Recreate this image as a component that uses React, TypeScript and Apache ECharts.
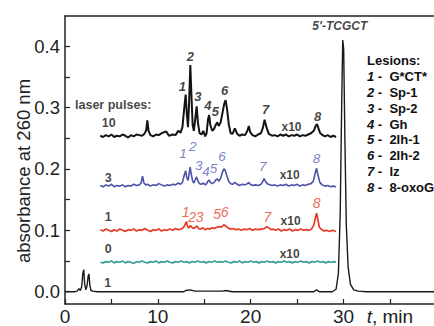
import React, { useEffect, useRef } from "react";
import * as echarts from "echarts";

const FONT = '"Liberation Sans", Arial, sans-serif';

// x ticks / labels
const X_TICKS = [0, 5, 10, 15, 20, 25, 30, 35];
const X_LABELS = [0, 10, 20, 30, 35];
const Y_TICKS = [0, 0.05, 0.1, 0.15, 0.2, 0.25, 0.3, 0.35, 0.4];
const Y_LABELS = [0, 0.1, 0.2, 0.3, 0.4];

// 10 laser pulses (x10), black
const TRACE_10 = [
  [3.8,0.254],[4.1,0.252],[4.4,0.255],[4.7,0.253],[5.0,0.256],[5.3,0.252],[5.6,0.254],[5.9,0.253],[6.2,0.256],[6.5,0.254],
  [6.8,0.251],[7.1,0.255],[7.4,0.253],[7.7,0.256],[8.0,0.255],[8.3,0.254],[8.55,0.257],[8.75,0.263],[8.87,0.279],[9.0,0.262],
  [9.2,0.255],[9.5,0.253],[9.8,0.256],[10.1,0.255],[10.4,0.258],[10.7,0.26],[10.9,0.261],[11.2,0.254],[11.6,0.256],[11.9,0.255],
  [12.2,0.262],[12.45,0.259],[12.65,0.268],[12.85,0.3],[13.0,0.321],[13.12,0.29],[13.25,0.268],[13.35,0.3],[13.5,0.369],[13.62,0.32],
  [13.75,0.272],[13.88,0.262],[14.02,0.28],[14.18,0.302],[14.32,0.275],[14.5,0.258],[14.7,0.256],[14.9,0.262],[15.1,0.253],[15.25,0.258],
  [15.4,0.28],[15.52,0.288],[15.65,0.272],[15.85,0.262],[16.05,0.265],[16.25,0.272],[16.4,0.276],[16.55,0.27],[16.75,0.275],[16.95,0.29],
  [17.15,0.306],[17.3,0.312],[17.45,0.298],[17.65,0.272],[17.85,0.258],[18.05,0.257],[18.3,0.266],[18.55,0.257],[18.8,0.254],[19.1,0.256],
  [19.4,0.255],[19.65,0.262],[19.8,0.27],[19.95,0.26],[20.2,0.255],[20.5,0.253],[20.8,0.256],[21.1,0.258],[21.3,0.266],[21.5,0.28],
  [21.7,0.268],[21.95,0.257],[22.3,0.254],[22.6,0.255],[22.9,0.253],[23.2,0.256],[23.5,0.254],[23.8,0.256],[24.1,0.253],[24.4,0.255],
  [24.7,0.254],[25.0,0.256],[25.3,0.253],[25.6,0.255],[25.9,0.254],[26.2,0.256],[26.5,0.258],[26.8,0.262],[27.0,0.27],[27.15,0.273],
  [27.3,0.266],[27.5,0.258],[27.75,0.255],[28.0,0.253],[28.3,0.255],[28.6,0.252],[28.9,0.254],[29.2,0.252]
];

// 3 laser pulses (x10), blue
const TRACE_3 = [
  [3.8,0.173],[4.1,0.171],[4.4,0.174],[4.7,0.172],[5.0,0.175],[5.3,0.171],[5.6,0.173],[5.9,0.172],[6.2,0.174],[6.5,0.171],
  [6.8,0.173],[7.1,0.172],[7.4,0.175],[7.7,0.173],[8.0,0.174],[8.2,0.177],[8.35,0.188],[8.5,0.177],[8.7,0.174],[8.95,0.175],
  [9.2,0.172],[9.5,0.174],[9.8,0.173],[10.1,0.176],[10.4,0.174],[10.7,0.172],[11.0,0.174],[11.3,0.173],[11.6,0.175],[11.9,0.174],
  [12.2,0.177],[12.45,0.175],[12.65,0.178],[12.85,0.19],[13.0,0.197],[13.12,0.186],[13.25,0.181],[13.35,0.19],[13.48,0.203],[13.62,0.19],
  [13.75,0.18],[13.88,0.177],[14.02,0.182],[14.18,0.187],[14.32,0.18],[14.5,0.176],[14.7,0.175],[14.9,0.177],[15.1,0.174],[15.25,0.176],
  [15.4,0.18],[15.52,0.182],[15.65,0.178],[15.85,0.176],[16.05,0.178],[16.25,0.182],[16.4,0.184],[16.55,0.18],[16.75,0.184],[16.95,0.194],
  [17.12,0.2],[17.25,0.198],[17.45,0.188],[17.65,0.179],[17.85,0.176],[18.05,0.175],[18.3,0.178],[18.55,0.175],[18.8,0.173],[19.1,0.175],
  [19.4,0.174],[19.65,0.176],[19.8,0.178],[19.95,0.175],[20.2,0.173],[20.5,0.174],[20.8,0.173],[21.1,0.175],[21.25,0.178],[21.45,0.184],
  [21.65,0.178],[21.9,0.175],[22.3,0.173],[22.6,0.174],[22.9,0.172],[23.2,0.174],[23.5,0.173],[23.8,0.175],[24.1,0.172],[24.4,0.174],
  [24.7,0.173],[25.0,0.175],[25.3,0.172],[25.6,0.174],[25.9,0.173],[26.2,0.175],[26.5,0.176],[26.75,0.18],[26.95,0.193],[27.1,0.201],
  [27.25,0.19],[27.45,0.178],[27.7,0.174],[28.0,0.172],[28.3,0.173],[28.6,0.171],[28.9,0.172],[29.2,0.171]
];

// 1 laser pulse (x10), red
const TRACE_1 = [
  [3.8,0.101],[4.1,0.099],[4.4,0.102],[4.7,0.1],[5.0,0.098],[5.3,0.101],[5.6,0.099],[5.9,0.102],[6.2,0.1],[6.5,0.098],
  [6.8,0.101],[7.1,0.1],[7.4,0.102],[7.7,0.099],[8.0,0.101],[8.3,0.1],[8.6,0.103],[8.9,0.1],[9.2,0.098],[9.5,0.101],
  [9.8,0.1],[10.1,0.102],[10.4,0.099],[10.7,0.101],[11.0,0.1],[11.3,0.102],[11.6,0.1],[11.9,0.103],[12.2,0.101],[12.5,0.102],
  [12.75,0.104],[12.95,0.11],[13.08,0.114],[13.2,0.106],[13.35,0.104],[13.5,0.108],[13.65,0.105],[13.85,0.103],[14.05,0.105],[14.2,0.107],
  [14.4,0.103],[14.6,0.102],[14.85,0.104],[15.1,0.101],[15.35,0.103],[15.6,0.102],[15.85,0.104],[16.1,0.103],[16.35,0.105],[16.6,0.106],
  [16.85,0.105],[17.1,0.109],[17.3,0.107],[17.55,0.104],[17.8,0.102],[18.1,0.103],[18.4,0.101],[18.7,0.102],[19.0,0.1],[19.3,0.102],
  [19.6,0.101],[19.9,0.103],[20.2,0.1],[20.5,0.102],[20.8,0.101],[21.1,0.102],[21.5,0.103],[21.75,0.106],[21.95,0.104],[22.2,0.101],
  [22.4,0.102],[22.7,0.1],[23.0,0.102],[23.3,0.099],[23.6,0.101],[23.9,0.1],[24.2,0.102],[24.5,0.099],[24.8,0.101],[25.1,0.1],
  [25.4,0.102],[25.7,0.1],[26.0,0.101],[26.3,0.1],[26.55,0.102],[26.8,0.108],[26.97,0.12],[27.1,0.128],[27.23,0.118],[27.4,0.105],
  [27.65,0.101],[27.9,0.099],[28.2,0.1],[28.5,0.098],[28.8,0.1],[29.2,0.098]
];

// 0 laser pulses (x10), teal
const TRACE_0 = [
  [3.8,0.048],[4.1,0.047],[4.4,0.049],[4.7,0.048],[5.0,0.05],[5.3,0.047],[5.6,0.049],[5.9,0.048],[6.2,0.05],[6.5,0.047],
  [6.8,0.049],[7.1,0.048],[7.4,0.046],[7.7,0.049],[8.0,0.048],[8.3,0.05],[8.6,0.048],[8.9,0.047],[9.2,0.049],[9.5,0.048],
  [9.8,0.05],[10.1,0.047],[10.4,0.049],[10.7,0.048],[11.0,0.05],[11.3,0.048],[11.6,0.047],[11.9,0.049],[12.2,0.048],[12.5,0.05],
  [12.8,0.048],[13.1,0.049],[13.4,0.047],[13.7,0.049],[14.0,0.048],[14.3,0.05],[14.6,0.048],[14.9,0.049],[15.2,0.047],[15.5,0.049],
  [15.8,0.048],[16.1,0.05],[16.4,0.048],[16.7,0.049],[17.0,0.048],[17.3,0.05],[17.6,0.048],[17.9,0.047],[18.2,0.049],[18.5,0.048],
  [18.8,0.05],[19.1,0.047],[19.4,0.049],[19.7,0.048],[20.0,0.05],[20.3,0.048],[20.6,0.049],[20.9,0.047],[21.2,0.049],[21.5,0.048],
  [21.8,0.05],[22.1,0.048],[22.4,0.049],[22.7,0.047],[23.0,0.049],[23.3,0.048],[23.6,0.05],[23.9,0.048],[24.2,0.049],[24.5,0.047],
  [24.8,0.049],[25.1,0.048],[25.4,0.05],[25.7,0.048],[26.0,0.049],[26.3,0.047],[26.6,0.049],[26.9,0.048],[27.2,0.05],[27.5,0.048],
  [27.8,0.049],[28.1,0.047],[28.4,0.049],[28.7,0.048],[29.0,0.049],[29.2,0.048]
];

// 1 laser pulse, full scale, black
const TRACE_FULL = [
  [0,0],[1.0,0],[1.3,0.001],[1.5,0.005],[1.65,0.002],[1.8,0.008],[1.92,0.03],[2.02,0.036],[2.12,0.012],[2.25,0.003],
  [2.38,0.01],[2.5,0.026],[2.58,0.029],[2.68,0.01],[2.8,0.002],[3.0,0.001],[3.5,0],[12.8,0],[13.0,0.002],[13.5,0.003],
  [14.0,0.001],[17.0,0.001],[17.3,0.002],[18,0],[26.8,0],[27.1,0.003],[27.4,0],[28.8,0],[29.2,0.004],[29.45,0.03],
  [29.65,0.13],[29.8,0.3],[29.92,0.41],[30.02,0.395],[30.15,0.25],[30.3,0.11],[30.5,0.04],[30.75,0.012],[31.1,0.003],[31.6,0.001],
  [32.5,0],[40,0]
];

// peak labels [t, value, text]
const LABELS_10 = [
  [12.65,0.335,"1"],[13.5,0.383,"2"],[14.3,0.318,"3"],[15.4,0.304,"4"],[16.2,0.293,"5"],[17.2,0.328,"6"],[21.6,0.297,"7"],[27.2,0.285,"8"]
];
const LABELS_3 = [
  [12.7,0.225,"1"],[13.75,0.236,"2"],[14.4,0.206,"3"],[15.2,0.196,"4"],[16.0,0.2,"5"],[16.9,0.22,"6"],[21.3,0.204,"7"],[27.1,0.217,"8"]
];
const LABELS_1 = [
  [13.0,0.13,"1"],[13.7,0.122,"2"],[14.5,0.122,"3"],[16.4,0.126,"5"],[17.2,0.13,"6"],[21.8,0.122,"7"],[27.1,0.145,"8"]
];
const PULSE_LABELS = [
  [4.7,0.275,"10"],[4.65,0.186,"3"],[4.65,0.121,"1"],[4.65,0.069,"0"],[4.6,0.014,"1"]
];
const SCALE_LABELS = [
  [24.4,0.269,"x10"],[24.2,0.19,"x10"],[24.3,0.115,"x10"],[24.2,0.061,"x10"]
];
const TITLE_LABELS = [[29.6,0.4325,"5'-TCGCT"]];
const LASER_LABEL = [[1.08,0.304,"laser pulses:"]];

const LESIONS = [
  ["1", "G*CT*"], ["2", "Sp-1"], ["3", "Sp-2"], ["4", "Gh"],
  ["5", "2Ih-1"], ["6", "2Ih-2"], ["7", "Iz"], ["8", "8-oxoG"]
];

function lineSeries(data: number[][], color: string, width: number) {
  return {
    type: "line",
    data,
    symbol: "none",
    showSymbol: false,
    silent: true,
    lineStyle: { color, width },
    z: 2,
  };
}

function labelSeries(data: any[], color: string, size: number, weight: string, style: string, align = "center") {
  return {
    type: "scatter",
    data,
    symbol: "circle",
    symbolSize: 1,
    silent: true,
    itemStyle: { color: "rgba(0,0,0,0)" },
    z: 5,
    label: {
      show: true,
      position: "inside",
      formatter: (p: any) => p.data[2],
      color,
      fontSize: size,
      fontWeight: weight,
      fontStyle: style,
      fontFamily: FONT,
      align,
      verticalAlign: "middle",
    },
  };
}

export default function App() {
  const ref = useRef<HTMLDivElement>(null);
  useEffect(() => {
    if (!ref.current) return;
    const chart = echarts.init(ref.current, null, { renderer: "svg" });
    const axisColor = "#222";
    const legendText = ["{h|Lesions:}"]
      .concat(LESIONS.map(([n, s]) => `{n|${n}}{b| -  ${s}}`))
      .join("\n");
    chart.setOption({
      animation: false,
      backgroundColor: "#fff",
      grid: { left: 65, right: 0, top: 16, bottom: 22 },
      xAxis: [
        {
          type: "value",
          min: 0,
          max: 39.75,
          splitLine: { show: false },
          axisLine: { onZero: false, lineStyle: { color: axisColor, width: 1.5 } },
          axisTick: { inside: true, length: 5, customValues: X_TICKS, lineStyle: { color: axisColor, width: 1.2 } },
          axisLabel: {
            customValues: X_LABELS,
            margin: 3,
            color: axisColor,
            fontSize: 19,
            fontFamily: FONT,
            formatter: (v: number) => (v === 35 ? "{i|t}{r|, min}" : String(v)),
            rich: {
              i: { fontStyle: "italic", fontSize: 19, fontFamily: FONT, color: axisColor },
              r: { fontSize: 19, fontFamily: FONT, color: axisColor },
            },
          },
        },
        {
          type: "value",
          position: "top",
          min: 0,
          max: 39.75,
          splitLine: { show: false },
          axisLine: { show: true, onZero: false, lineStyle: { color: axisColor, width: 1.5 } },
          axisTick: { show: false },
          axisLabel: { show: false },
        },
      ],
      yAxis: {
        type: "value",
        min: -0.02,
        max: 0.449,
        splitLine: { show: false },
        axisLine: { show: true, onZero: false, lineStyle: { color: axisColor, width: 1.5 } },
        axisTick: { inside: true, length: 5, customValues: Y_TICKS, lineStyle: { color: axisColor, width: 1.2 } },
        axisLabel: {
          customValues: Y_LABELS,
          margin: 5,
          color: axisColor,
          fontSize: 18.5,
          fontFamily: FONT,
          formatter: (v: number) => v.toFixed(1),
        },
      },
      graphic: [
        {
          type: "text",
          x: 23.5,
          y: 171,
          rotation: Math.PI / 2,
          style: {
            text: "absorbance at 260 nm",
            fontSize: 18.5,
            fontFamily: FONT,
            fill: axisColor,
            align: "center",
            verticalAlign: "middle",
          },
        },
        {
          type: "text",
          left: 367,
          top: 53,
          style: {
            text: legendText,
            fill: "#111",
            lineHeight: 15.8,
            rich: {
              h: { fontSize: 13, fontWeight: "bold", fontFamily: FONT, fill: "#111", lineHeight: 15.8 },
              n: { fontSize: 13, fontWeight: "bold", fontStyle: "italic", fontFamily: FONT, fill: "#111", lineHeight: 15.8 },
              b: { fontSize: 13, fontWeight: "bold", fontFamily: FONT, fill: "#111", lineHeight: 15.8 },
            },
          },
        },
      ],
      series: [
        lineSeries(TRACE_FULL, "#1a1a1a", 1.4),
        lineSeries(TRACE_0, "#3a9d9b", 1.7),
        lineSeries(TRACE_1, "#e63b26", 1.7),
        lineSeries(TRACE_3, "#4b52a8", 1.6),
        lineSeries(TRACE_10, "#141414", 2),
        labelSeries(LABELS_10, "#111", 13, "bold", "italic"),
        labelSeries(LABELS_3, "#5663bb", 13.5, "normal", "italic"),
        labelSeries(LABELS_1, "#e8432b", 14, "normal", "italic"),
        labelSeries(PULSE_LABELS, "#111", 12.5, "bold", "normal"),
        labelSeries(SCALE_LABELS, "#111", 12, "bold", "normal"),
        labelSeries(TITLE_LABELS, "#111", 12, "bold", "italic"),
        labelSeries(LASER_LABEL, "#111", 12.5, "bold", "normal", "left"),
      ],
    });
    return () => chart.dispose();
  }, []);
  return (
    <div
      ref={ref}
      style={{ position: "absolute", left: 0, top: 0, width: 434, height: 326, background: "#fff" }}
    />
  );
}
